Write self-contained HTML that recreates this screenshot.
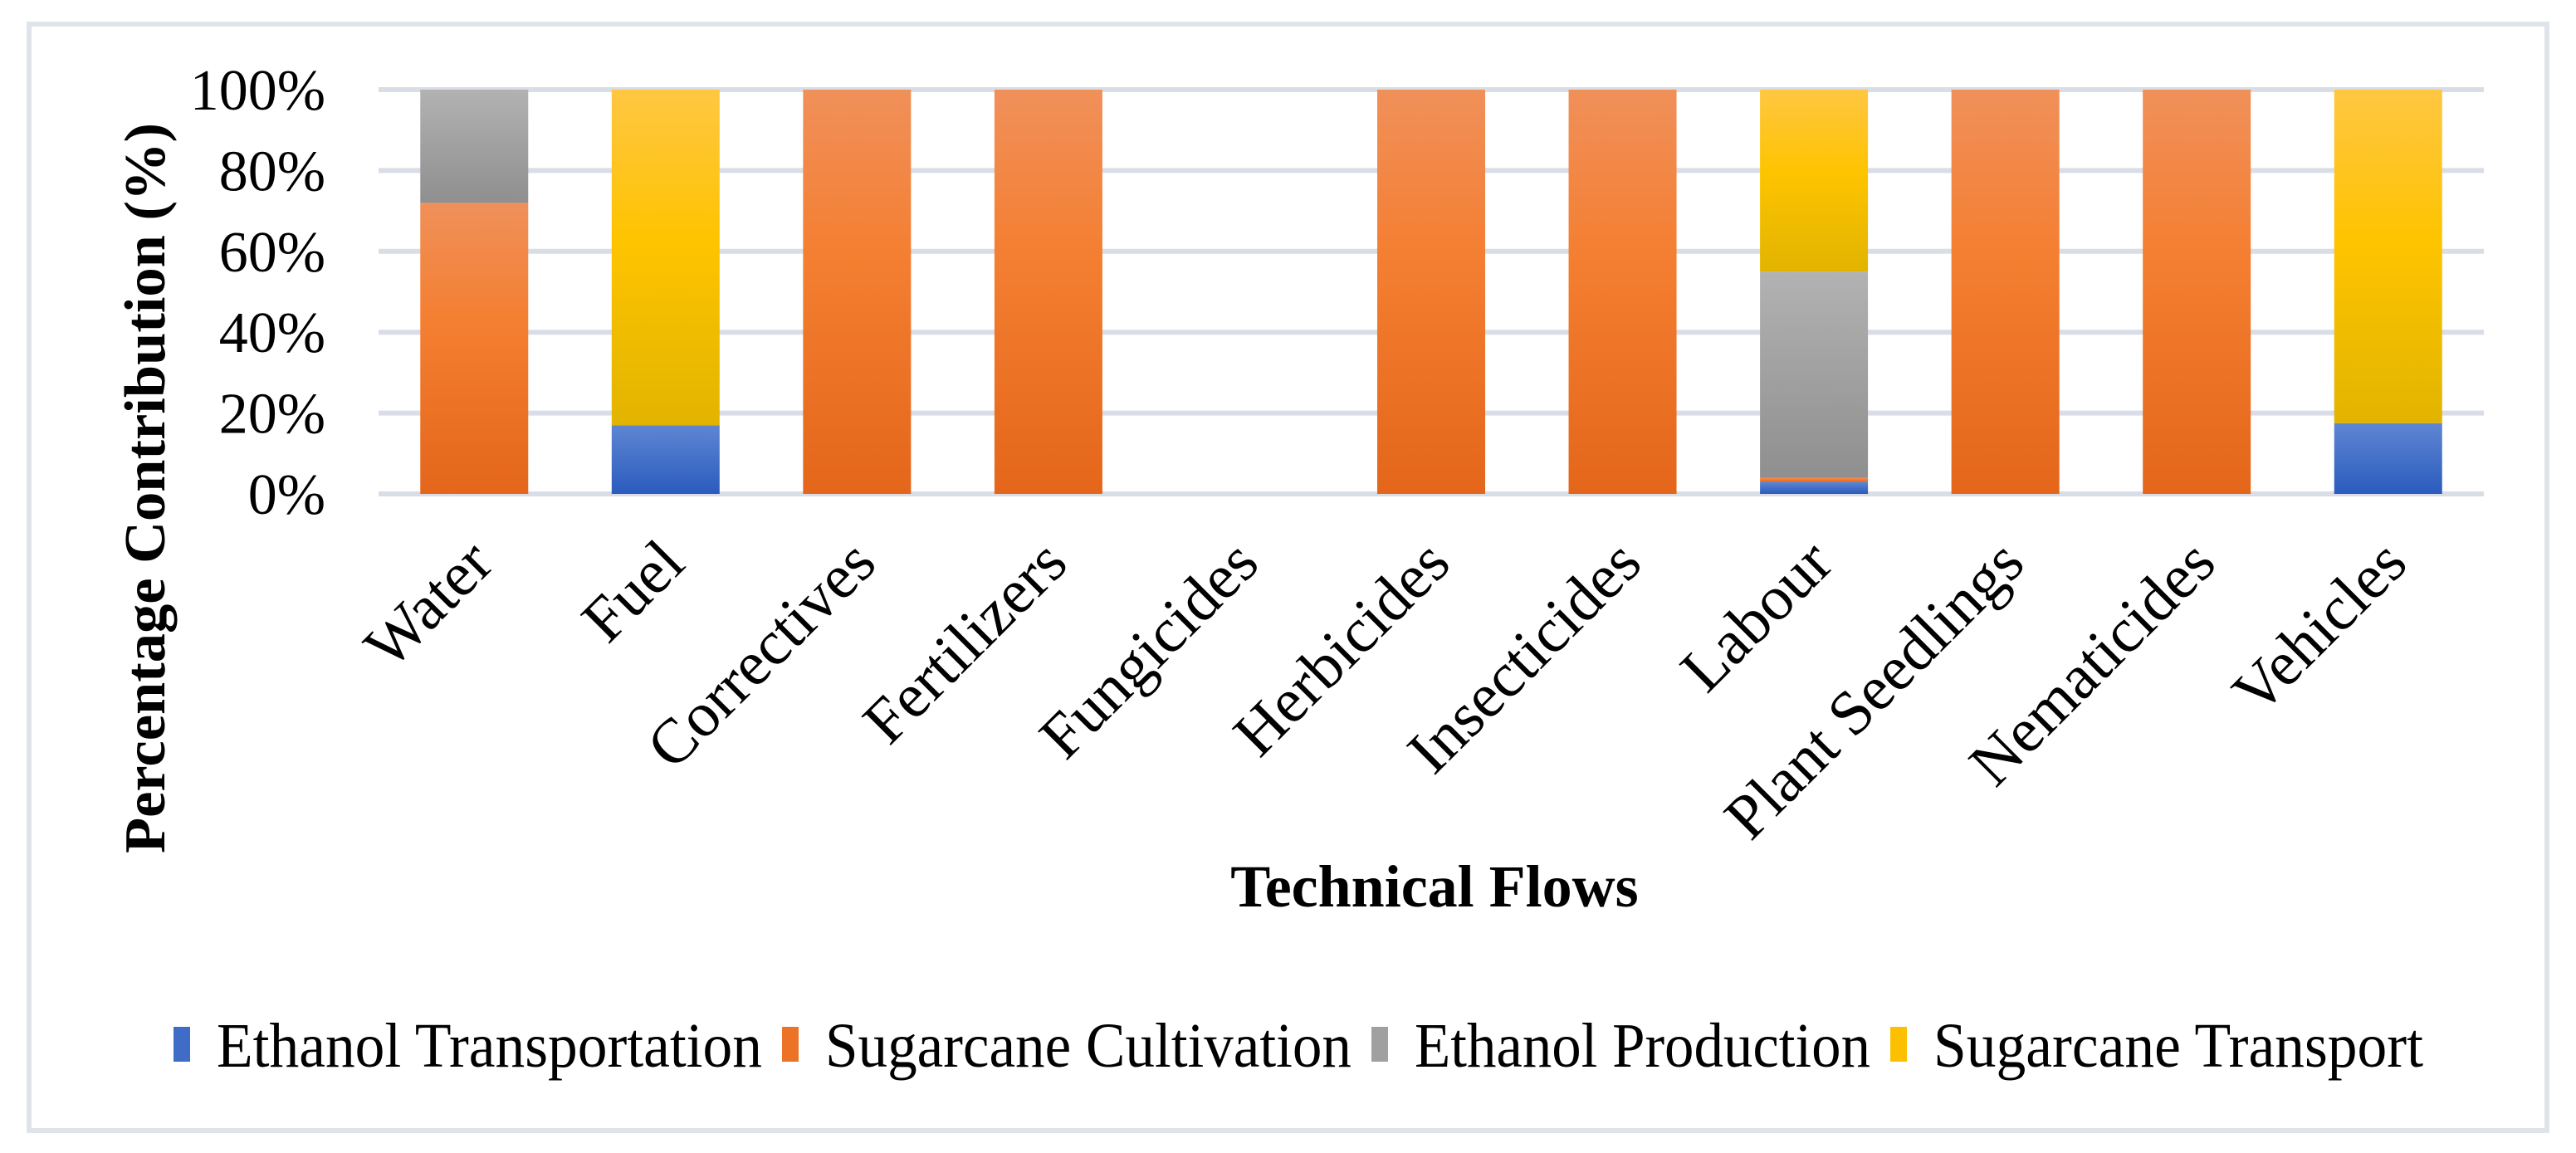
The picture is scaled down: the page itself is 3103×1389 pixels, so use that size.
<!DOCTYPE html>
<html><head><meta charset="utf-8"><style>
html,body{margin:0;padding:0;background:#fff;}
svg{display:block;font-family:"Liberation Serif",serif;}
</style></head><body>
<svg id="chart" width="3103" height="1389" viewBox="0 0 3103 1389" xmlns="http://www.w3.org/2000/svg">
<defs>
<linearGradient id="g-blue" x1="0" y1="0" x2="0" y2="1"><stop offset="0" stop-color="#5f86d3"/><stop offset="1" stop-color="#2a5bbd"/></linearGradient>
<linearGradient id="g-orange" x1="0" y1="0" x2="0" y2="1"><stop offset="0" stop-color="#f0905a"/><stop offset="0.4" stop-color="#f47f32"/><stop offset="1" stop-color="#e4661a"/></linearGradient>
<linearGradient id="g-gray" x1="0" y1="0" x2="0" y2="1"><stop offset="0" stop-color="#b2b2b2"/><stop offset="1" stop-color="#8f8f8f"/></linearGradient>
<linearGradient id="g-yellow" x1="0" y1="0" x2="0" y2="1"><stop offset="0" stop-color="#ffc643"/><stop offset="0.45" stop-color="#fec400"/><stop offset="1" stop-color="#e2b400"/></linearGradient>
</defs>
<rect x="35" y="29" width="3033" height="1333" fill="#fff" stroke="#dfe3ea" stroke-width="6"/>
<g id="grid"></g>
<g id="bars"></g>
<g id="ticks"></g>
<g id="cats"></g>
<text transform="translate(198,588) rotate(-90)" text-anchor="middle" font-size="70" font-weight="bold" textLength="880" lengthAdjust="spacingAndGlyphs">Percentage Contribution (%)</text>
<text x="1728" y="1092" text-anchor="middle" font-size="72" font-weight="bold">Technical Flows</text>
<g id="legend"></g>
</svg>
<script>
const categories = ["Water","Fuel","Correctives","Fertilizers","Fungicides","Herbicides","Insecticides","Labour","Plant Seedlings","Nematicides","Vehicles"];
const seriesNames = ["Ethanol Transportation","Sugarcane Cultivation","Ethanol Production","Sugarcane Transport"];
const ethanolTransportation = [0,17,0,0,0,0,0,3,0,0,17.5];
const sugarcaneCultivation = [72,0,100,100,0,100,100,1,100,100,0];
const ethanolProduction = [28,0,0,0,0,0,0,51,0,0,0];
const sugarcaneTransport = [0,83,0,0,0,0,0,45,0,0,82.5];
const tickValues = [0,20,40,60,80,100];
const tickLabels = ["0%","20%","40%","60%","80%","100%"];

const NS="http://www.w3.org/2000/svg";
const plotL=456, plotR=2992, plotT=108, plotB=595;
const band=(plotR-plotL)/categories.length, barW=130;
const y=v=>plotB-(v/100)*(plotB-plotT);
const xc=i=>plotL+band*(i+0.5);
function mk(tag,attrs,parent){const e=document.createElementNS(NS,tag);for(const k in attrs)e.setAttribute(k,attrs[k]);parent.appendChild(e);return e;}
const grid=document.getElementById('grid'),bars=document.getElementById('bars'),ticks=document.getElementById('ticks'),cats=document.getElementById('cats'),legend=document.getElementById('legend');
tickValues.forEach((v,i)=>{
  const l=mk('line',{x1:plotL,x2:plotR,y1:y(v),y2:y(v),stroke:'#d9dde6','stroke-width':6},grid);
  
  
  const t=mk('text',{x:392,y:y(v)+24,'text-anchor':'end','font-size':70},ticks);
  t.textContent=tickLabels[i];
  
  
});
const series=[ethanolTransportation,sugarcaneCultivation,ethanolProduction,sugarcaneTransport];
const fills=['url(#g-blue)','url(#g-orange)','url(#g-gray)','url(#g-yellow)'];
const swatch=['#3f6cc6','#ec7225','#a0a0a0','#fcc000'];
categories.forEach((c,i)=>{
  let acc=0;
  series.forEach((s,k)=>{
    const v=s[i]; if(v<=0)return;
    const r=mk('rect',{x:xc(i)-barW/2,y:y(acc+v),width:barW,height:y(acc)-y(acc+v),fill:fills[k]},bars);
    
    
    acc+=v;
  });
  const t=mk('text',{transform:`translate(${xc(i)+26},${682}) rotate(-45)`,'text-anchor':'end','font-size':76},cats);
  t.textContent=c;
  
  
});
const legX=[209,942,1652,2277], legW=[657,634,549,590];
seriesNames.forEach((n,k)=>{
  const r=mk('rect',{x:legX[k],y:1237,width:20,height:42,fill:swatch[k]},legend);
  
  
  const t=mk('text',{x:legX[k]+52,y:1285,'font-size':76,textLength:legW[k],lengthAdjust:'spacingAndGlyphs'},legend);
  t.textContent=n;
  
  
});
</script>
</body></html>
